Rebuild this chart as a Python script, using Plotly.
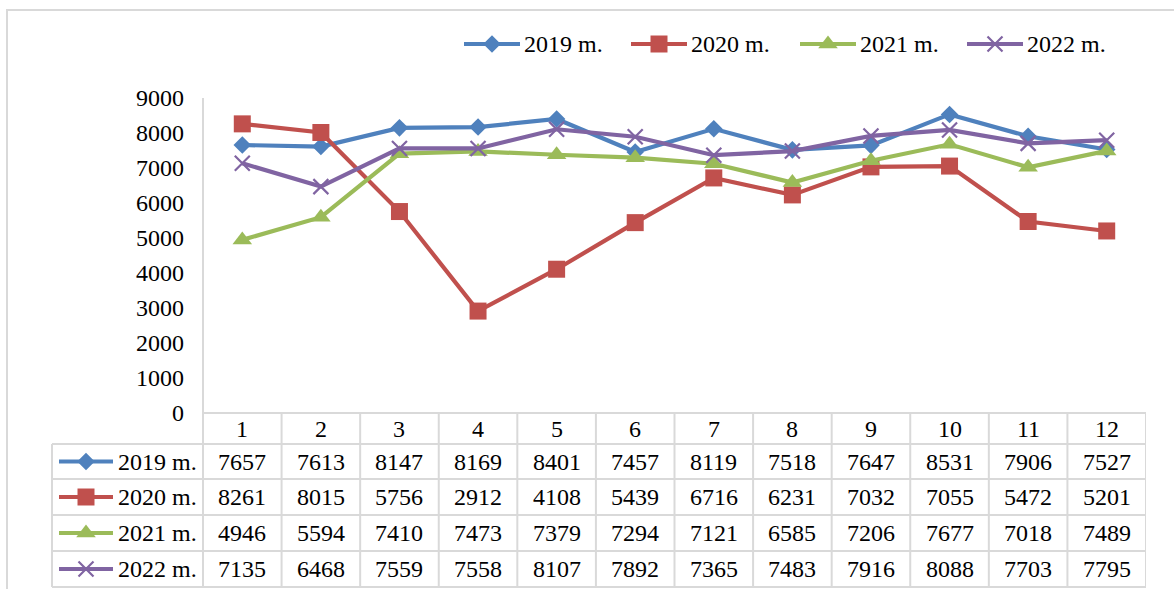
import plotly.graph_objects as go

W, H = 1174, 589

months = list(range(1, 13))
series_names = ["2019 m.", "2020 m.", "2021 m.", "2022 m."]
v2019 = [7657, 7613, 8147, 8169, 8401, 7457, 8119, 7518, 7647, 8531, 7906, 7527]
v2020 = [8261, 8015, 5756, 2912, 4108, 5439, 6716, 6231, 7032, 7055, 5472, 5201]
v2021 = [4946, 5594, 7410, 7473, 7379, 7294, 7121, 6585, 7206, 7677, 7018, 7489]
v2022 = [7135, 6468, 7559, 7558, 8107, 7892, 7365, 7483, 7916, 8088, 7703, 7795]
y_ticks = [0, 1000, 2000, 3000, 4000, 5000, 6000, 7000, 8000, 9000]

all_values = [v2019, v2020, v2021, v2022]
colors = ["#4f81bd", "#c0504d", "#9bbb59", "#8064a2"]
symbols = ["diamond", "square", "triangle-up", "x-thin-open"]
msizes = [13.5, 17, 17, 15]

FONT = "Liberation Serif, Times New Roman, serif"
GRID = "#d9d9d9"
LW = 4.2

# plot area in pixels
PL, PR, PT, PB = 203, 1146, 98, 413
# table rows (pixels)
row_edges = [413, 444, 479, 515, 551, 587]
LABEL_L = 52


def px(x):
    return x / W


def py(y):
    return 1 - y / H


def make_marker(c, s, ms):
    m = dict(symbol=s, size=ms, color=c)
    if s.startswith("x"):
        m["line"] = dict(color=c, width=2.2)
    return m


fig = go.Figure()

for name, vals, c, s, ms in zip(series_names, all_values, colors, symbols, msizes):
    fig.add_trace(go.Scatter(
        x=months, y=vals, name=name, mode="lines+markers",
        line=dict(color=c, width=LW), marker=make_marker(c, s, ms),
        showlegend=False, xaxis="x", yaxis="y", cliponaxis=False,
    ))

# legend-like icons (top legend and table row headers) on a pixel overlay axis
legend_icon_x = [464, 631, 800, 967]
legend_y = 44
table_icon_x = 59

for i, (name, c, s, ms) in enumerate(zip(series_names, colors, symbols, msizes)):
    marker = make_marker(c, s, ms)
    # top legend
    lx = legend_icon_x[i]
    fig.add_trace(go.Scatter(x=[lx, lx + 56], y=[legend_y, legend_y], mode="lines",
                             line=dict(color=c, width=LW), showlegend=False,
                             xaxis="x2", yaxis="y2", hoverinfo="skip", cliponaxis=False))
    fig.add_trace(go.Scatter(x=[lx + 28], y=[legend_y], mode="markers", marker=marker,
                             showlegend=False, xaxis="x2", yaxis="y2", hoverinfo="skip",
                             cliponaxis=False))
    fig.add_annotation(x=px(lx + 58), y=py(legend_y), xref="paper", yref="paper",
                       text=name, showarrow=False, xanchor="left", yanchor="middle",
                       font=dict(family=FONT, size=24, color="black"))
    # table row header
    cy = (row_edges[i + 1] + row_edges[i + 2]) / 2
    fig.add_trace(go.Scatter(x=[table_icon_x, table_icon_x + 54], y=[cy, cy], mode="lines",
                             line=dict(color=c, width=LW), showlegend=False,
                             xaxis="x2", yaxis="y2", hoverinfo="skip", cliponaxis=False))
    fig.add_trace(go.Scatter(x=[table_icon_x + 27], y=[cy], mode="markers", marker=marker,
                             showlegend=False, xaxis="x2", yaxis="y2", hoverinfo="skip",
                             cliponaxis=False))
    fig.add_annotation(x=px(table_icon_x + 57), y=py(cy), xref="paper", yref="paper",
                       text=name, showarrow=False, xanchor="left", yanchor="middle",
                       font=dict(family=FONT, size=24, color="black"))
    # table values
    for m, v in zip(months, all_values[i]):
        fig.add_annotation(x=m, y=py(cy), xref="x", yref="paper", text=str(v),
                           showarrow=False, xanchor="center", yanchor="middle",
                           font=dict(family=FONT, size=24, color="black"))

# header row (months)
hy = (row_edges[0] + row_edges[1]) / 2
for m in months:
    fig.add_annotation(x=m, y=py(hy), xref="x", yref="paper", text=str(m),
                       showarrow=False, xanchor="center", yanchor="middle",
                       font=dict(family=FONT, size=24, color="black"))

shapes = []
# outer frame
shapes.append(dict(type="rect", xref="paper", yref="paper", x0=px(7), x1=px(1200),
                   y0=py(10), y1=py(620), line=dict(color=GRID, width=2), layer="below"))
# vertical axis line
shapes.append(dict(type="line", xref="paper", yref="paper", x0=px(PL), x1=px(PL),
                   y0=py(PT), y1=py(row_edges[-1]), line=dict(color=GRID, width=2),
                   layer="below"))
# table vertical lines
for k in range(1, 13):
    xb = k + 0.5
    shapes.append(dict(type="line", xref="x", yref="paper", x0=xb, x1=xb,
                       y0=py(row_edges[0]), y1=py(row_edges[-1]),
                       line=dict(color=GRID, width=2), layer="below"))
shapes.append(dict(type="line", xref="paper", yref="paper", x0=px(LABEL_L), x1=px(LABEL_L),
                   y0=py(row_edges[1]), y1=py(row_edges[-1]), line=dict(color=GRID, width=2),
                   layer="below"))
# table horizontal lines
shapes.append(dict(type="line", xref="paper", yref="paper", x0=px(PL), x1=px(PR),
                   y0=py(row_edges[0]), y1=py(row_edges[0]), line=dict(color=GRID, width=2),
                   layer="below"))
for ye in row_edges[1:]:
    shapes.append(dict(type="line", xref="paper", yref="paper", x0=px(LABEL_L), x1=px(PR),
                       y0=py(ye), y1=py(ye), line=dict(color=GRID, width=2), layer="below"))

fig.update_layout(
    width=W, height=H,
    autosize=False,
    margin=dict(l=0, r=0, t=0, b=0, pad=0, autoexpand=False),
    paper_bgcolor="white", plot_bgcolor="rgba(0,0,0,0)",
    showlegend=False,
    shapes=shapes,
    xaxis=dict(domain=[px(PL), px(PR)], range=[0.5, 12.5], showticklabels=False,
               showgrid=False, zeroline=False, showline=False, ticks="", automargin=False),
    yaxis=dict(domain=[py(PB), py(PT)], range=[0, 9000], tickvals=y_ticks,
               showgrid=False, zeroline=False, showline=False, ticks="",
               ticklabelstandoff=18, automargin=False,
               tickfont=dict(family=FONT, size=24, color="black")),
    xaxis2=dict(domain=[0, 1], range=[0, W], visible=False, anchor="y2",
                fixedrange=True, automargin=False),
    yaxis2=dict(domain=[0, 1], range=[H, 0], visible=False, anchor="x2",
                fixedrange=True, automargin=False),
)

fig.write_html("out.html", config={"displayModeBar": False, "responsive": False},
               post_script="document.body.style.margin='0';document.body.style.overflow='hidden';")
